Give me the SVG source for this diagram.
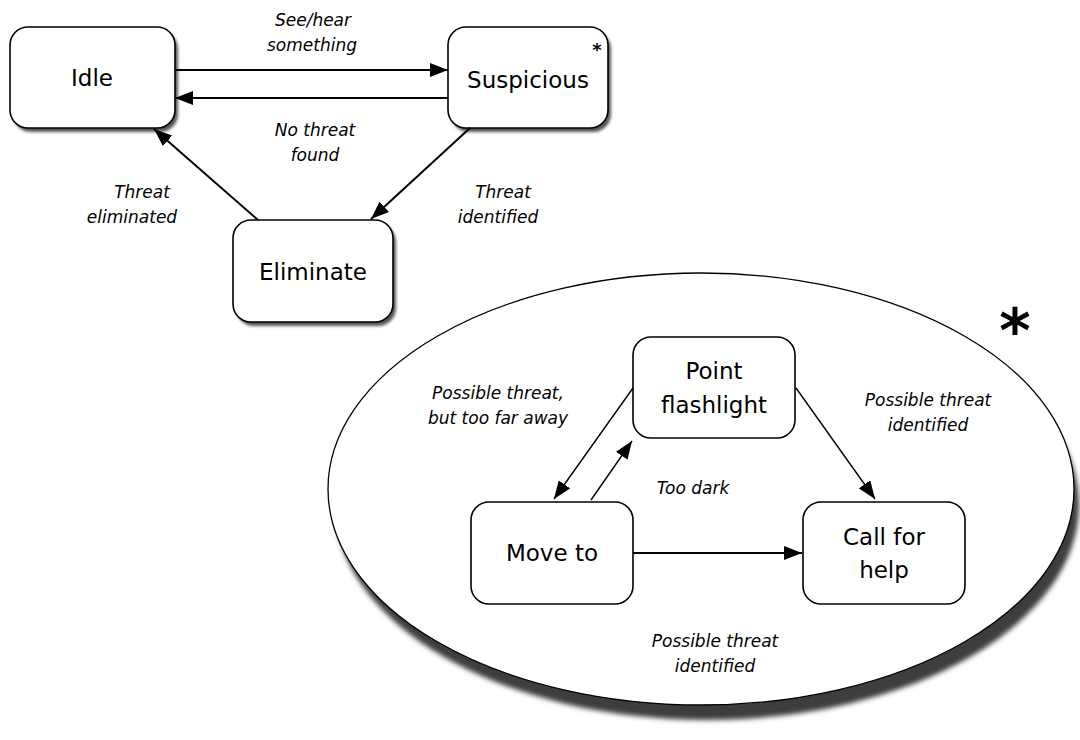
<svg xmlns="http://www.w3.org/2000/svg" width="1080" height="740" viewBox="0 0 1080 740">
<style>
.box{fill:#fff;stroke:#000;stroke-width:1.6}
.sh{fill:#555;filter:url(#blur)}
.nl{font-family:"DejaVu Sans",sans-serif;font-size:23px;text-anchor:middle;fill:#000}
.el{font-family:"DejaVu Sans",sans-serif;font-style:italic;font-size:17px;text-anchor:middle;fill:#000}
.c{stroke:#000;fill:none}
.t{stroke-width:2}
.i{stroke-width:1.4}
</style>
<defs>
<filter id="blur" x="-10%" y="-10%" width="120%" height="120%"><feGaussianBlur stdDeviation="1.5"/></filter>
<filter id="blur2" x="-10%" y="-10%" width="120%" height="130%"><feGaussianBlur stdDeviation="2.5"/></filter>
<marker id="ah" markerUnits="userSpaceOnUse" markerWidth="18" markerHeight="14" refX="18" refY="7" orient="auto">
<path d="M0,0 L18,7 L0,14 z" fill="#000"/>
</marker>
</defs>
<rect width="1080" height="740" fill="#fff"/>

<g id="superstate">
<ellipse cx="707" cy="505" rx="372" ry="215" fill="#3c3c3c" filter="url(#blur2)"/>
<ellipse cx="701" cy="489" rx="373" ry="216" fill="#fff" stroke="#000" stroke-width="1.3"/>
<text x="1015" y="352" font-family="DejaVu Sans,sans-serif" font-weight="bold" font-size="60" text-anchor="middle">*</text>
</g>

<g id="idle">
<rect class="sh" x="13" y="31" width="165" height="101" rx="18"/>
<rect class="box" x="10" y="27" width="165" height="101" rx="18"/>
<text class="nl" x="92" y="86">Idle</text>
</g>
<g id="suspicious">
<rect class="sh" x="451" y="31" width="160" height="101" rx="18"/>
<rect class="box" x="448" y="27" width="160" height="101" rx="18"/>
<text class="nl" x="528" y="88">Suspicious</text>
<text x="597" y="56" font-family="DejaVu Sans,sans-serif" font-weight="bold" font-size="18" text-anchor="middle">*</text>
</g>
<g id="eliminate">
<rect class="sh" x="236" y="224" width="160" height="102" rx="18"/>
<rect class="box" x="233" y="220" width="160" height="102" rx="18"/>
<text class="nl" x="313" y="280">Eliminate</text>
</g>
<g id="point-flashlight">
<rect class="box" x="633" y="337" width="162" height="101" rx="18"/>
<text class="nl" x="714" y="379">Point</text>
<text class="nl" x="714" y="413">flashlight</text>
</g>
<g id="move-to">
<rect class="box" x="471" y="502" width="162" height="102" rx="18"/>
<text class="nl" x="552" y="561">Move to</text>
</g>
<g id="call-for-help">
<rect class="box" x="803" y="502" width="162" height="102" rx="18"/>
<text class="nl" x="884" y="545">Call for</text>
<text class="nl" x="884" y="578">help</text>
</g>

<g id="connectors">
<line class="c t" x1="175" y1="70" x2="448" y2="70" marker-end="url(#ah)"/>
<line class="c t" x1="448" y1="98" x2="175" y2="98" marker-end="url(#ah)"/>
<line class="c t" x1="258" y1="220" x2="154" y2="129" marker-end="url(#ah)"/>
<line class="c t" x1="470" y1="128" x2="371" y2="219" marker-end="url(#ah)"/>
<line class="c i" x1="633" y1="388" x2="554" y2="499" marker-end="url(#ah)"/>
<line class="c i" x1="591" y1="500" x2="632" y2="441" marker-end="url(#ah)"/>
<line class="c i" x1="796" y1="388" x2="875" y2="499" marker-end="url(#ah)"/>
<line class="c t" x1="633" y1="553" x2="802" y2="553" marker-end="url(#ah)"/>
</g>

<g id="labels">
<text class="el" x="313" y="26">See/hear</text>
<text class="el" x="312" y="51">something</text>
<text class="el" x="315" y="136">No threat</text>
<text class="el" x="315" y="161">found</text>
<text class="el" x="142" y="198">Threat</text>
<text class="el" x="132" y="223">eliminated</text>
<text class="el" x="503" y="198">Threat</text>
<text class="el" x="498" y="223">identified</text>
<text class="el" x="498" y="399">Possible threat,</text>
<text class="el" x="498" y="424">but too far away</text>
<text class="el" x="928" y="406">Possible threat</text>
<text class="el" x="928" y="431">identified</text>
<text class="el" x="693" y="494">Too dark</text>
<text class="el" x="715" y="647">Possible threat</text>
<text class="el" x="715" y="672">identified</text>
</g>
</svg>
